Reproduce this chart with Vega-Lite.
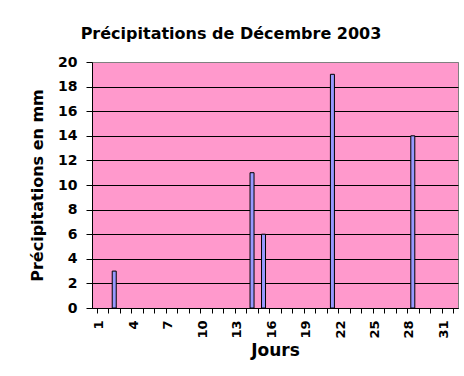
{
  "$schema": "https://vega.github.io/schema/vega-lite/v6.json",
  "width": 366,
  "height": 246,
  "autosize": {"type": "none"},
  "padding": {"left": 92, "top": 62, "right": 6, "bottom": 68},
  "background": "white",
  "title": {
    "text": "Précipitations de Décembre 2003",
    "font": "DejaVu Sans",
    "fontSize": 16,
    "fontWeight": "bold",
    "color": "black",
    "anchor": "middle",
    "frame": "group",
    "dx": -44,
    "offset": 13
  },
  "data": {
    "values": [
      {"jour": 2, "mm": 3},
      {"jour": 14, "mm": 11},
      {"jour": 15, "mm": 6},
      {"jour": 21, "mm": 19},
      {"jour": 28, "mm": 14}
    ]
  },
  "mark": {"type": "bar", "width": 4, "fill": "#9999FF", "stroke": "black", "strokeWidth": 1},
  "encoding": {
    "x": {
      "field": "jour",
      "type": "quantitative",
      "scale": {"domain": [0.5, 31.5], "nice": false, "zero": false},
      "axis": {
        "title": "Jours",
        "values": [0.5,1.5,2.5,3.5,4.5,5.5,6.5,7.5,8.5,9.5,10.5,11.5,12.5,13.5,14.5,15.5,16.5,17.5,18.5,19.5,20.5,21.5,22.5,23.5,24.5,25.5,26.5,27.5,28.5,29.5,30.5,31.5],
        "labelExpr": "(datum.value - 0.5) % 3 == 0 ? format(datum.value + 0.5, 'd') : ''",
        "labelAngle": 270,
        "labelAlign": "right",
        "labelBaseline": "alphabetic",
        "labelOffset": 5.9,
        "labelPadding": 7,
        "labelFont": "DejaVu Sans",
        "labelFontWeight": "bold",
        "labelFontSize": 13,
        "labelColor": "black",
        "labelOverlap": false,
        "labelFlush": false,
        "labelBound": false,
        "tickSize": 5,
        "tickColor": "black",
        "domainColor": "black",
        "grid": false,
        "titleFont": "DejaVu Sans",
        "titleFontSize": 17,
        "titleFontWeight": "bold",
        "titleColor": "black",
        "titlePadding": 4
      }
    },
    "y": {
      "field": "mm",
      "type": "quantitative",
      "scale": {"domain": [0, 20], "nice": false},
      "axis": {
        "title": "Précipitations en mm",
        "values": [0, 2, 4, 6, 8, 10, 12, 14, 16, 18, 20],
        "labelFont": "DejaVu Sans",
        "labelFontWeight": "bold",
        "labelFontSize": 14,
        "labelColor": "black",
        "labelPadding": 9,
        "labelFlush": false,
        "labelOverlap": false,
        "tickSize": 6,
        "tickColor": "black",
        "domainColor": "black",
        "grid": true,
        "gridColor": {"condition": {"test": "datum.value == 20", "value": "#808080"}, "value": "black"},
        "gridOpacity": 1,
        "titleFont": "DejaVu Sans",
        "titleFontSize": 16,
        "titleFontWeight": "bold",
        "titleColor": "black",
        "titlePadding": 12
      }
    }
  },
  "config": {
    "view": {"fill": "#FF99CC", "stroke": "#808080", "strokeWidth": 1}
  }
}
